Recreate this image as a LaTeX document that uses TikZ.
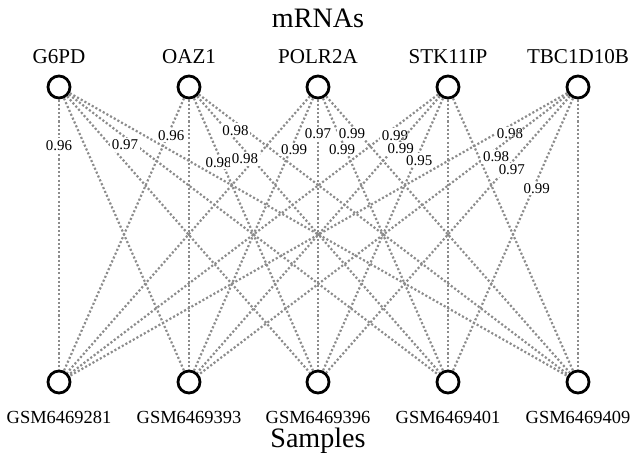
\documentclass[tikz,border=0pt]{standalone}
\usepackage{fontspec}
\setmainfont{Liberation Serif}

\begin{document}
\begin{tikzpicture}[x=0.02cm, y=-0.02cm,
vertex/.style={circle, draw=black, line width=1.6pt, fill=white, minimum size=0.44cm, inner sep=0pt},
link/.style={draw=black!45, line width=1.25pt, dash pattern=on 1.2pt off 1.2pt},
corr/.style={below, fill=white, inner sep=1pt, font=\fontsize{8.5}{10}\selectfont},
gname/.style={anchor=base, font=\fontsize{12}{14}\selectfont},
sname/.style={anchor=base, font=\fontsize{10.5}{12}\selectfont},
heading/.style={anchor=base, font=\fontsize{16}{19}\selectfont}
]
\useasboundingbox (0,0) rectangle (630,457);

\node[heading] (mrnas) at (318,27) {mRNAs};
\node[heading] (samples) at (318,447) {Samples};

\node[gname] (t1) at (59,63) {G6PD};
\node[gname] (t2) at (189,63) {OAZ1};
\node[gname] (t3) at (318,63) {POLR2A};
\node[gname] (t4) at (448,63) {STK11IP};
\node[gname] (t5) at (578,63) {TBC1D10B};

\node[vertex] (g1) at (59,87) {};
\node[vertex] (g2) at (189,87) {};
\node[vertex] (g3) at (318,87) {};
\node[vertex] (g4) at (448,87) {};
\node[vertex] (g5) at (578,87) {};

\node[vertex] (s1) at (59,382) {};
\node[vertex] (s2) at (189,382) {};
\node[vertex] (s3) at (318,382) {};
\node[vertex] (s4) at (448,382) {};
\node[vertex] (s5) at (578,382) {};

\node[sname] (u1) at (59,423) {GSM6469281};
\node[sname] (u2) at (189,423) {GSM6469393};
\node[sname] (u3) at (318,423) {GSM6469396};
\node[sname] (u4) at (448,423) {GSM6469401};
\node[sname] (u5) at (578,423) {GSM6469409};

% edges without a value
\draw[link] (g1) -- (s2);
\draw[link] (g1) -- (s3);
\draw[link] (g1) -- (s5);
\draw[link] (g2) -- (s2);
\draw[link] (g3) -- (s1);
\draw[link] (g4) -- (s4);
\draw[link] (g4) -- (s5);
\draw[link] (g5) -- (s5);

% edges with a value
\draw[link] (g1) -- node[corr, pos=0.14] (c1) {0.96} (s1);
\draw[link] (g1) -- node[corr, pos=0.152] (c2) {0.97} (s4);
\draw[link] (g2) -- node[corr, pos=0.106] (c3) {0.96} (s1);
\draw[link] (g2) -- node[corr, pos=0.207] (c4) {0.98} (s3);
\draw[link] (g2) -- node[corr, pos=0.197] (c5) {0.98} (s4);
\draw[link] (g2) -- node[corr, pos=0.099] (c6) {0.98} (s5);
\draw[link] (g3) -- node[corr, pos=0.159] (c7) {0.99} (s2);
\draw[link] (g3) -- node[corr, pos=0.099] (c8) {0.97} (s3);
\draw[link] (g3) -- node[corr, pos=0.159] (c9) {0.99} (s4);
\draw[link] (g3) -- node[corr, pos=0.106] (c10) {0.99} (s5);
\draw[link] (g4) -- node[corr, pos=0.117] (c11) {0.99} (s1);
\draw[link] (g4) -- node[corr, pos=0.161] (c12) {0.99} (s2);
\draw[link] (g4) -- node[corr, pos=0.198] (c13) {0.95} (s3);
\draw[link] (g5) -- node[corr, pos=0.115] (c14) {0.98} (s1);
\draw[link] (g5) -- node[corr, pos=0.195] (c15) {0.98} (s2);
\draw[link] (g5) -- node[corr, pos=0.238] (c16) {0.97} (s3);
\draw[link] (g5) -- node[corr, pos=0.302] (c17) {0.99} (s4);

\end{tikzpicture}
\end{document}
